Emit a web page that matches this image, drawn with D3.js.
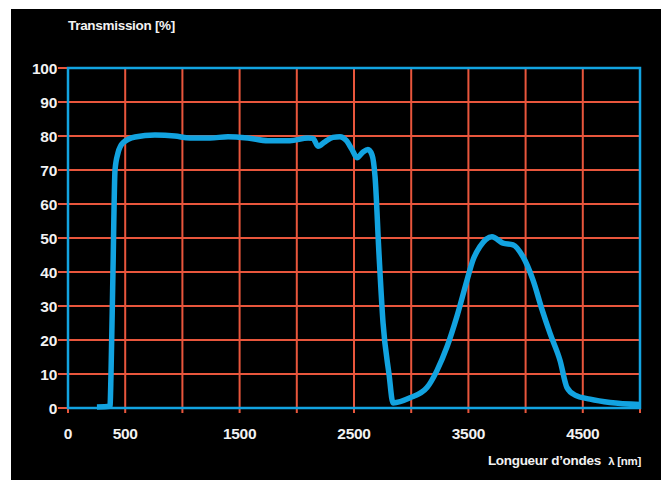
<!DOCTYPE html>
<html><head><meta charset="utf-8">
<script src="https://cdn.jsdelivr.net/npm/d3@7"></script>
<style>
html,body{margin:0;padding:0;background:#fff;}
svg{display:block;}
text{font-family:"Liberation Sans","Open Sans",sans-serif;fill:#f2f2f2;}
</style></head>
<body>
<svg id="c" width="661" height="480"></svg>
<script>
const wavelength = [253,367,376,393,411,437,481,586,760,935,1066,1241,1399,1573,1748,1940,2098,2142,2185,2246,2316,2378,2430,2483,2526,2579,2622,2657,2684,2719,2754,2806,2841,2990,3138,3225,3313,3400,3488,3540,3601,3706,3802,3890,3977,4065,4143,4213,4301,4362,4432,4563,4738,5000];
const transmission = [0.3,0.5,10,40,70,75,78,79.7,80.3,80,79.4,79.4,79.8,79.4,78.6,78.6,79.4,79.3,77,78.3,79.6,79.8,78.8,76,73.6,75.3,76,74.5,68,45,25,10,1.5,3,6,11,18,27,37.6,43.5,47.5,50.4,48.5,48,44.5,37.6,29,22,14,6,3.8,2.6,1.6,1];
const xTickLabels = [0,500,1500,2500,3500,4500];
const xGrid = [500,1000,1500,2000,2500,3000,3500,4000,4500,5000];
const yTicks = [0,10,20,30,40,50,60,70,80,90,100];

const svg = d3.select("#c");
const L=68, R=640, T=68, B=408;
const red="#e8563c", blue="#12a3e0";
svg.append("rect").attr("x",11).attr("y",9).attr("width",650).attr("height",471).attr("fill","#000");

const x = d3.scaleLinear().domain([0,5000]).range([L,R]);
const y = d3.scaleLinear().domain([0,100]).range([B,T]);

// grid
svg.append("g").selectAll("line").data(yTicks.filter(d=>d>0&&d<100)).join("line")
  .attr("x1",L).attr("x2",R).attr("y1",d=>y(d)).attr("y2",d=>y(d))
  .attr("stroke",red).attr("stroke-width",2);
svg.append("g").selectAll("line").data(xGrid).join("line")
  .attr("x1",d=>x(d)).attr("x2",d=>x(d)).attr("y1",T).attr("y2",B+5)
  .attr("stroke",red).attr("stroke-width",2);
// left ticks
svg.append("g").selectAll("line").data(yTicks).join("line")
  .attr("x1",L-10).attr("x2",L).attr("y1",d=>y(d)).attr("y2",d=>y(d))
  .attr("stroke",red).attr("stroke-width",2);
svg.append("line").attr("x1",L).attr("x2",L).attr("y1",B).attr("y2",B+5).attr("stroke",red).attr("stroke-width",2);

// frame
svg.append("rect").attr("x",L).attr("y",T).attr("width",R-L).attr("height",B-T)
  .attr("fill","none").attr("stroke",blue).attr("stroke-width",2.5);

// y labels
svg.append("g").selectAll("text").data(yTicks).join("text")
  .attr("x",L-11).attr("y",d=>y(d)+5.5).attr("text-anchor","end")
  .attr("font-size",15.5).attr("font-weight","bold").attr("letter-spacing","-0.3")
  .text(d=>d);
// x labels
svg.append("g").selectAll("text").data(xTickLabels).join("text")
  .attr("x",d=>x(d)).attr("y",439).attr("text-anchor","middle")
  .attr("font-size",15.5).attr("font-weight","bold").attr("letter-spacing","-0.3")
  .text(d=>d);

svg.append("text").attr("x",L).attr("y",30).attr("font-size",13.5).attr("font-weight","bold")
  .attr("letter-spacing","-0.3").text("Transmission [%]");
svg.append("text").attr("x",R+1).attr("y",465).attr("text-anchor","end").attr("font-size",13.5)
  .attr("font-weight","bold").attr("letter-spacing","-0.3")
  .html('Longueur d\u2019ondes <tspan dx="4" font-size="11.5">\u03bb [nm]</tspan>');

// curve
const data = wavelength.map((w,i)=>[w,transmission[i]]);
const line = d3.line().x(d=>x(d[0])).y(d=>y(d[1])).curve(d3.curveMonotoneX);
svg.append("path").datum(data).attr("d",line).attr("fill","none")
  .attr("stroke",blue).attr("stroke-width",5.5).attr("stroke-linejoin","round").attr("stroke-linecap","butt");
</script>
</body></html>
